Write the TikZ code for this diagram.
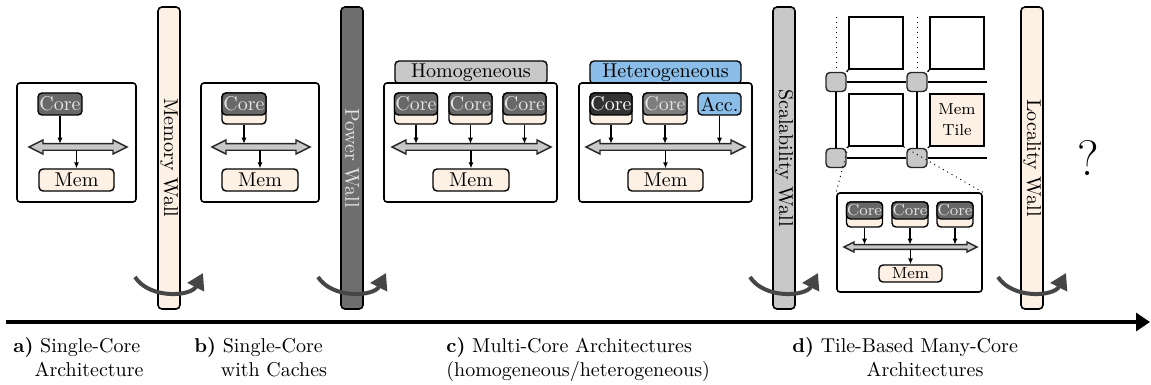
\documentclass[tikz,border=0pt]{standalone}
\usetikzlibrary{arrows.meta}
\definecolor{cream}{RGB}{253,240,228}
\definecolor{lgrey}{RGB}{200,200,200}
\definecolor{cgrey}{RGB}{104,104,104}
\definecolor{cdark}{RGB}{50,50,50}
\definecolor{cmid}{RGB}{125,125,125}
\definecolor{accblue}{RGB}{138,190,232}
\definecolor{pgrey}{RGB}{110,110,110}
\definecolor{agrey}{RGB}{70,70,70}
\definecolor{ctext}{RGB}{228,228,228}
% double-headed bus bar: name, x1, x2, y, head length, head half-height, shaft half-height
\newcommand\busbar[7]{%
  \draw[bus] (#2,#4) -- ({#2+#5},{#4-#6}) -- ({#2+#5},{#4-#7}) -- ({#3-#5},{#4-#7})
    -- ({#3-#5},{#4-#6}) -- (#3,#4) -- ({#3-#5},{#4+#6}) -- ({#3-#5},{#4+#7})
    -- ({#2+#5},{#4+#7}) -- ({#2+#5},{#4+#6}) -- cycle;
  \coordinate (#1-t) at ({(#2+#3)/2},{#4-#7});
  \coordinate (#1-b) at ({(#2+#3)/2},{#4+#7});
}
\begin{document}
\begin{tikzpicture}[x=0.5pt,y=-0.5pt,
  frame/.style={draw=black, line width=0.8pt, rounded corners=1.5pt, fill=white, inner sep=0pt},
  corebox/.style={draw=black, line width=0.7pt, rounded corners=2pt, fill=cgrey, text=ctext,
    inner sep=0pt, minimum width=22pt, minimum height=11pt},
  cachebox/.style={draw=black, line width=0.7pt, rounded corners=2pt, fill=cream,
    inner sep=0pt, minimum width=22pt, minimum height=15.5pt},
  membox/.style={draw=black, line width=0.7pt, rounded corners=2pt, fill=cream,
    inner sep=0pt, minimum width=37.5pt, minimum height=11pt},
  wall/.style={draw=black, line width=0.8pt, rounded corners=2pt, inner sep=0pt,
    minimum width=11pt, minimum height=151pt},
  tab/.style={draw=black, line width=0.7pt, rounded corners=2pt, inner sep=0pt,
    minimum width=76pt, minimum height=11.5pt},
  bus/.style={draw=black!85, line width=0.7pt, fill=lgrey},
  feed/.style={line width=0.6pt, -{Latex[length=3pt,width=2.6pt]}},
  turn/.style={line width=2pt, draw=agrey, -{Triangle[length=8pt,width=9pt]}},
  tile/.style={draw=black, line width=0.9pt, inner sep=0pt, minimum width=27pt, minimum height=26pt},
  router/.style={draw=black!85, line width=0.7pt, rounded corners=2pt, fill=lgrey,
    inner sep=0pt, minimum width=10pt, minimum height=9.5pt},
  noc/.style={line width=0.7pt},
  dots/.style={line width=0.5pt, dotted},
  lbl/.style={inner sep=0pt},
  smallcore/.style={corebox, minimum width=18pt, minimum height=8.5pt, font=\footnotesize},
  smallcache/.style={cachebox, minimum width=18pt, minimum height=12.5pt},
]
\useasboundingbox (0,0) rectangle (1151,385);

% ---------- walls ----------
\node[wall, fill=cream] (wmem) at (169,158) {\rotatebox{-90}{Memory Wall}};
\node[wall, fill=pgrey, text=ctext] (wpow) at (352,158) {\rotatebox{-90}{Power Wall}};
\node[wall, fill=lgrey] (wscal) at (784,158) {\rotatebox{-90}{Scalability Wall}};
\node[wall, fill=cream] (wloc) at (1032,158) {\rotatebox{-90}{Locality Wall}};

% ---------- a) single core ----------
\node[frame, minimum width=59.5pt, minimum height=59.5pt] (boxa) at (76.5,142.5) {};
\node[corebox] (corea) at (60,104) {Core};
\node[membox] (mema) at (76.5,180) {Mem};
\busbar{busa}{29}{127}{147}{14}{7}{3.3}
\draw[feed] (corea.south) -- (corea.south |- busa-t);
\draw[feed] (busa-b -| mema.north) -- (mema.north);

% ---------- b) single core with caches ----------
\node[frame, minimum width=59pt, minimum height=59.5pt] (boxb) at (260,142.5) {};
\node[cachebox] (cacheb) at (244,108.5) {};
\node[corebox] (coreb) at (244,104) {Core};
\node[membox, minimum width=38pt] (memb) at (260,180) {Mem};
\busbar{busb}{212}{310}{147}{14}{7}{3.3}
\draw[feed] (cacheb.south) -- (cacheb.south |- busb-t);
\draw[feed] (busb-b -| memb.north) -- (memb.north);

% ---------- c) homogeneous multi-core ----------
\node[tab, fill=lgrey] (tabh) at (471,72.5) {Homogeneous};
\node[frame, minimum width=86.5pt, minimum height=59.5pt] (boxh) at (470.5,142.5) {};
\foreach \i/\x in {1/416,2/470.5,3/524.5}{
  \node[cachebox, minimum width=21.5pt] (cacheh\i) at (\x,108.5) {};
  \node[corebox, minimum width=21.5pt] (coreh\i) at (\x,104) {Core};
}
\node[membox, minimum width=38pt] (memh) at (471,180) {Mem};
\busbar{bush}{392}{551}{147}{14}{7}{3.3}
\foreach \i in {1,2,3}{
  \draw[feed] (cacheh\i.south) -- (cacheh\i.south |- bush-t);
}
\draw[feed] (bush-b -| memh.north) -- (memh.north);

% ---------- c) heterogeneous multi-core ----------
\node[tab, fill=accblue, minimum width=75.5pt] (tabx) at (665.5,72.5) {Heterogeneous};
\node[frame, minimum width=86.5pt, minimum height=59.5pt] (boxx) at (665.5,142.5) {};
\node[cachebox, minimum width=21pt] (cachex1) at (611,108.5) {};
\node[corebox, minimum width=21pt, fill=cdark, text=white] (corex1) at (611,104) {Core};
\node[cachebox, minimum width=22pt] (cachex2) at (665,108.5) {};
\node[corebox, minimum width=22pt, fill=cmid] (corex2) at (665,104) {Core};
\node[corebox, minimum width=21.5pt, fill=accblue, text=black] (accx) at (719.5,104) {Acc.};
\node[membox] (memx) at (665.5,180) {Mem};
\busbar{busx}{586}{745}{147}{14}{7}{3.3}
\draw[feed] (cachex1.south) -- (cachex1.south |- busx-t);
\draw[feed] (cachex2.south) -- (cachex2.south |- busx-t);
\draw[feed] (accx.south) -- (accx.south |- busx-t);
\draw[feed] (busx-b -| memx.north) -- (memx.north);

% ---------- d) tile-based many-core ----------
\node[tile] (tTL) at (876,43) {};
\node[tile] (tTR) at (957,43) {};
\node[tile] (tBL) at (876,120) {};
\node[tile, fill=cream, align=center, font=\footnotesize] (tMem) at (957,120) {Mem\\[1pt]Tile};
\node[router] (r1) at (836,82) {};
\node[router] (r2) at (917,82) {};
\node[router] (r3) at (836,158) {};
\node[router] (r4) at (917,158) {};
\coordinate (e1) at (987,82);
\coordinate (e2) at (987,158);
\coordinate (u1) at (836,17);
\coordinate (u2) at (917,17);
\draw[noc] (r1) -- (r2);
\draw[noc] (r3) -- (r4);
\draw[noc] (r1) -- (r3);
\draw[noc] (r2) -- (r4);
\draw[noc] (r2.east) -- (e1);
\draw[noc] (r4.east) -- (e2);
\draw[dots] (u1) -- (r1.north);
\draw[dots] (u2) -- (r2.north);
\draw[noc] (r1.north east) -- (tTL.south west);
\draw[noc] (r2.north east) -- (tTR.south west);
\draw[noc] (r3.north east) -- (tBL.south west);
\draw[noc] (r4.north east) -- (tMem.south west);

% magnified tile
\node[frame, minimum width=72.5pt, minimum height=49.5pt] (zbox) at (909.5,242.5) {};
\draw[dots] (tBL.south west) -- (zbox.north west);
\draw[dots] (tBL.south east) -- (zbox.north east);
\foreach \i/\x in {1/864.5,2/910,3/955}{
  \node[smallcache] (cachez\i) at (\x,214.5) {};
  \node[smallcore] (corez\i) at (\x,210.5) {Core};
}
\node[membox, minimum width=31.5pt, minimum height=8.5pt, font=\footnotesize] (memz) at (910.5,273.5) {Mem};
\busbar{busz}{844}{977}{247}{10}{5}{2.4}
\foreach \i in {1,2,3}{
  \draw[feed] (cachez\i.south) -- (cachez\i.south |- busz-t);
}
\draw[feed] (busz-b -| memz.north) -- (memz.north);

% ---------- open question ----------
\node[lbl] (q) at (1088,158) {\Huge ?};

% ---------- transitions across the walls ----------
\foreach \w/\x in {a/169,b/352,c/784,d/1032}{
  \coordinate (s\w) at ({\x-34},277);
  \coordinate (f\w) at ({\x+34},273);
  \draw[turn] (s\w) to[out=-57,in=-117] (f\w);
}

% ---------- timeline ----------
\coordinate (t0) at (6,322);
\coordinate (t1) at (1150,322);
\draw[line width=1.6pt, -{Triangle[length=7pt,width=9pt]}] (t0) -- (t1);

\node[lbl, anchor=base west] (la1) at (13,352) {\textbf{a)} Single-Core};
\node[lbl, anchor=base] (la2) at (89,376) {Architecture};
\node[lbl, anchor=base west] (lb1) at (194,352) {\textbf{b)} Single-Core};
\node[lbl, anchor=base] (lb2) at (274,376) {with Caches};
\node[lbl, anchor=base west] (lc1) at (446,352) {\textbf{c)} Multi-Core Architectures};
\node[lbl, anchor=base west] (lc2) at (446,376) {(homogeneous/heterogeneous)};
\node[lbl, anchor=base west] (ld1) at (792,352) {\textbf{d)} Tile-Based Many-Core};
\node[lbl, anchor=base] (ld2) at (925,376) {Architectures};
\end{tikzpicture}
\end{document}
